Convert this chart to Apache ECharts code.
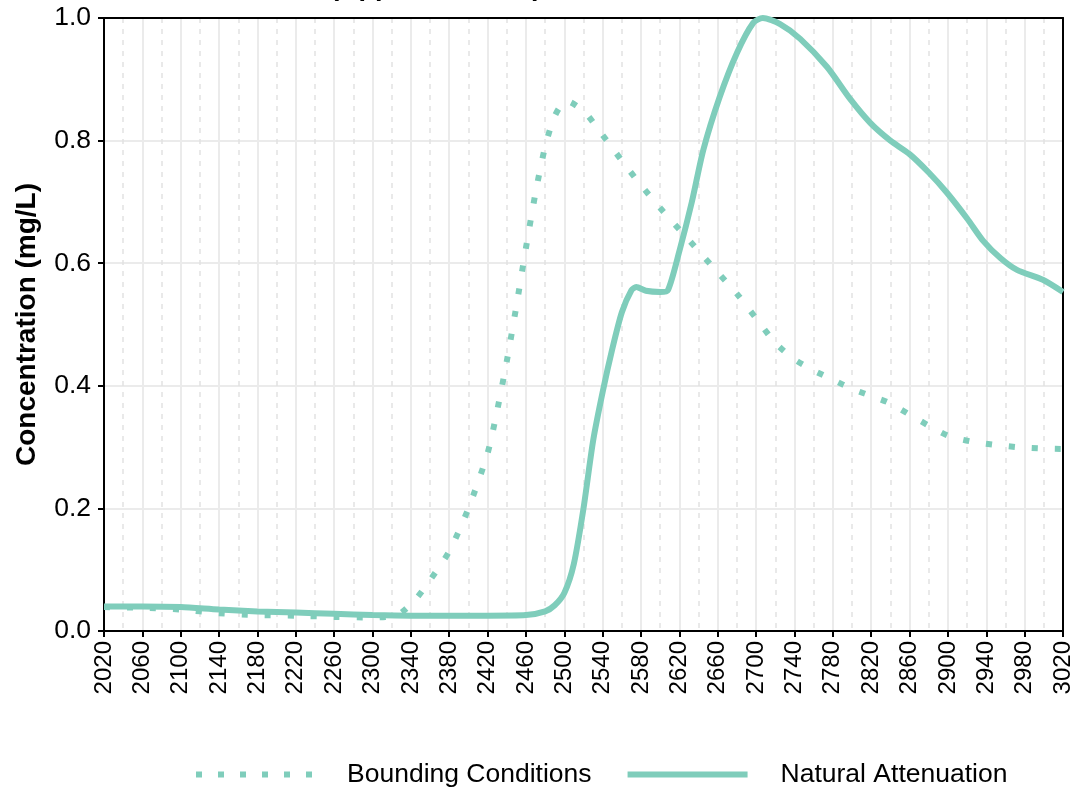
<!DOCTYPE html>
<html>
<head>
<meta charset="utf-8">
<script src="https://cdn.jsdelivr.net/npm/echarts@6/dist/echarts.min.js"></script>
<style>
  html, body { margin: 0; padding: 0; background: #fff; }
  #chart { width: 1081px; height: 791px; }
</style>
</head>
<body>
<div id="chart"></div>
<script>
// values
const titleText = 'Predicted Concentration (Upper Bedrock)';
const yAxisName = 'Concentration (mg/L)';
const seriesNames = ['Bounding Conditions', 'Natural Attenuation'];

const bcYears = [2020, 2060, 2100, 2140, 2180, 2220, 2260, 2300, 2320, 2330, 2345, 2360, 2380, 2400,
  2420, 2430, 2440, 2450, 2460, 2470, 2480, 2490, 2502, 2521, 2536, 2550, 2564, 2579, 2600, 2620,
  2640, 2660, 2680, 2700, 2720, 2740, 2760, 2780, 2800, 2817, 2839, 2859, 2880, 2901, 2925, 2948,
  2972, 2995, 3020];
const bcValues = [0.039, 0.038, 0.035, 0.029, 0.026, 0.025, 0.023, 0.022, 0.024, 0.030, 0.052, 0.083,
  0.13, 0.20, 0.29, 0.36, 0.44, 0.53, 0.625, 0.715, 0.790, 0.840, 0.865, 0.847, 0.817, 0.788, 0.759,
  0.729, 0.69, 0.655, 0.62, 0.585, 0.55, 0.51, 0.47, 0.443, 0.425, 0.41, 0.395, 0.385, 0.372, 0.354,
  0.335, 0.318, 0.309, 0.304, 0.300, 0.298, 0.297];

const naYears = [2020, 2060, 2100, 2140, 2180, 2220, 2260, 2300, 2340, 2380, 2420, 2460, 2480, 2490,
  2500, 2510, 2520, 2530, 2540, 2550, 2560, 2570, 2575, 2585, 2600, 2608, 2620, 2633, 2645, 2662,
  2680, 2697, 2707, 2725, 2746, 2774, 2798, 2819, 2840, 2860, 2880, 2899, 2920, 2937, 2955, 2972,
  2999, 3020];
const naValues = [0.040, 0.040, 0.039, 0.035, 0.032, 0.030, 0.028, 0.026, 0.025, 0.025, 0.025, 0.026,
  0.032, 0.042, 0.062, 0.11, 0.20, 0.31, 0.39, 0.46, 0.52, 0.556, 0.561, 0.555, 0.553, 0.556, 0.62,
  0.70, 0.785, 0.871, 0.943, 0.992, 1.0, 0.990, 0.966, 0.92, 0.868, 0.829, 0.80, 0.778, 0.748, 0.715,
  0.673, 0.636, 0.608, 0.589, 0.573, 0.553];

const xMin = 2020, xMax = 3020, xStep = 40;
const yMin = 0, yMax = 1, yStep = 0.2;

const lineColor = '#7fcdbb';
const pairs = (xs, ys) => xs.map((x, i) => [x, ys[i]]);

// legend icons: six square dots / one solid bar
const dotsIcon = 'path://M0,0h6v6h-6z M22,0h6v6h-6z M44,0h6v6h-6z M66,0h6v6h-6z M88,0h6v6h-6z M110,0h6v6h-6z';
const barIcon = 'rect';

const chart = echarts.init(document.getElementById('chart'));

const frameAxis = {
  show: true,
  axisLine: { show: true, onZero: false, lineStyle: { color: '#000', width: 2 } },
  axisTick: { show: false },
  axisLabel: { show: false },
  splitLine: { show: false }
};

const option = {
  animation: false,
  textStyle: { fontFamily: 'Liberation Sans, Arial, sans-serif' },
  title: {
    text: titleText,
    left: 4,
    top: -31,
    textStyle: { fontSize: 27, fontWeight: 'bold', color: '#000' }
  },
  grid: { left: 104, right: 18, top: 18, bottom: 160 },
  legend: {
    top: 756,
    left: 191,
    itemWidth: 120,
    itemHeight: 6,
    itemGap: 36,
    textStyle: { fontSize: 26.5, color: '#000', padding: [0, 0, 0, 28] },
    data: [
      { name: seriesNames[0], icon: dotsIcon },
      { name: seriesNames[1], icon: barIcon }
    ]
  },
  xAxis: [
    {
      type: 'value',
      min: xMin, max: xMax, interval: xStep,
      axisLine: { show: true, onZero: false, lineStyle: { color: '#000', width: 2 } },
      axisTick: { show: true, length: 6, lineStyle: { color: '#000', width: 2 } },
      axisLabel: {
        rotate: 90, fontSize: 24, color: '#000', margin: 10,
        formatter: v => String(v)
      },
      splitLine: { show: true, lineStyle: { color: '#ebebeb', width: 2 } },
      minorTick: { show: false, splitNumber: 2 },
      minorSplitLine: { show: true, lineStyle: { color: '#e2e2e2', width: 1.5, type: [5, 6] } }
    },
    Object.assign({ type: 'value', position: 'top', min: xMin, max: xMax }, frameAxis)
  ],
  yAxis: [
    {
      type: 'value',
      min: yMin, max: yMax, interval: yStep,
      name: yAxisName,
      nameLocation: 'middle',
      nameGap: 63,
      nameTextStyle: { fontSize: 28, fontWeight: 'bold', color: '#000' },
      axisLine: { show: true, lineStyle: { color: '#000', width: 2 } },
      axisTick: { show: true, length: 6, lineStyle: { color: '#000', width: 2 } },
      axisLabel: { fontSize: 26.5, color: '#000', margin: 13, formatter: v => v.toFixed(1) },
      splitLine: { show: true, lineStyle: { color: '#ebebeb', width: 2 } }
    },
    Object.assign({ type: 'value', position: 'right', min: yMin, max: yMax }, frameAxis)
  ],
  series: [
    {
      name: seriesNames[0],
      type: 'line',
      data: pairs(bcYears, bcValues),
      smooth: 0.25,
      symbol: 'none',
      color: lineColor,
      lineStyle: { color: lineColor, width: 6, type: [6, 17], cap: 'butt' },
      z: 3
    },
    {
      name: seriesNames[1],
      type: 'line',
      data: pairs(naYears, naValues),
      smooth: 0.25,
      symbol: 'none',
      color: lineColor,
      lineStyle: { color: lineColor, width: 6 },
      z: 3
    }
  ]
};

chart.setOption(option);
</script>
</body>
</html>
